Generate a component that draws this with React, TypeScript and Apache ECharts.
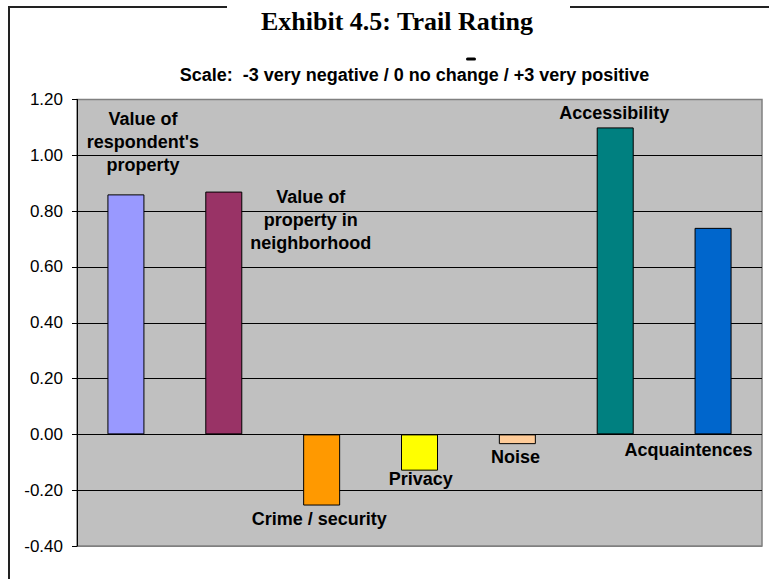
import React, { useEffect, useRef } from "react";
import * as echarts from "echarts";

const categories = [
  "Value of\nrespondent's\nproperty",
  "Value of\nproperty in\nneighborhood",
  "Crime / security",
  "Privacy",
  "Noise",
  "Accessibility",
  "Acquaintences",
];
const values = [0.86, 0.87, -0.255, -0.13, -0.035, 1.1, 0.74];
const barColors = ["#9999FF", "#993366", "#FF9900", "#FFFF00", "#FFCC99", "#008080", "#0066CC"];
const labelPlacement: { position: string; offset: [number, number] }[] = [
  { position: "top", offset: [17, -17.5] },
  { position: "top", offset: [87, 62.8] },
  { position: "bottom", offset: [-2.4, 1.8] },
  { position: "bottom", offset: [1.3, -3.5] },
  { position: "bottom", offset: [-1.8, 1.7] },
  { position: "top", offset: [-1, -2.8] },
  { position: "bottom", offset: [-24.6, 4] },
];
const yMin = -0.4;
const yMax = 1.2;
const yStep = 0.2;

const titleText = "Exhibit 4.5: Trail Rating";
const subtitleText = "Scale:  -3 very negative / 0 no change / +3 very positive";

export default function App() {
  const ref = useRef<HTMLDivElement>(null);
  useEffect(() => {
    if (!ref.current) return;
    const chart = echarts.init(ref.current, undefined, { renderer: "svg" });
    const sans = "'Liberation Sans', Arial, sans-serif";
    const tickCount = Math.round((yMax - yMin) / yStep) + 1;
    const splitColors = Array.from({ length: tickCount }, (_, i) =>
      i === 0 || i === tickCount - 1 ? "#808080" : "#000000"
    );
    chart.setOption({
      animation: false,
      backgroundColor: "#ffffff",
      grid: {
        left: 77,
        top: 99.5,
        right: 7,
        bottom: 33,
        show: true,
        backgroundColor: "#C0C0C0",
        borderColor: "#808080",
        borderWidth: 1.5,
      },
      xAxis: {
        type: "category",
        data: categories,
        show: false,
      },
      yAxis: {
        type: "value",
        min: yMin,
        max: yMax,
        interval: yStep,
        axisLine: { show: true, lineStyle: { color: "#000", width: 1 } },
        axisTick: { show: true, length: 5, lineStyle: { color: "#000" } },
        axisLabel: {
          margin: 14,
          fontSize: 17,
          fontFamily: sans,
          color: "#000",
          formatter: (v: number) => v.toFixed(2),
        },
        splitLine: { show: true, lineStyle: { color: splitColors, width: 1 } },
      },
      series: [
        {
          type: "bar",
          barWidth: 37,
          data: values.map((v, i) => ({
            value: v,
            itemStyle: { color: barColors[i], borderColor: "#000", borderWidth: 1 },
            label: {
              show: true,
              position: labelPlacement[i].position,
              distance: 0,
              offset: labelPlacement[i].offset,
              formatter: categories[i],
              fontSize: 18,
              fontWeight: "bold",
              fontFamily: sans,
              lineHeight: 23,
              color: "#000",
              align: "center",
            },
          })),
        },
      ],
      graphic: [
        { type: "line", shape: { x1: 9, y1: 7, x2: 9, y2: 600 }, style: { stroke: "#222", lineWidth: 2 } },
        { type: "line", shape: { x1: 8, y1: 7, x2: 227, y2: 7 }, style: { stroke: "#222", lineWidth: 2 } },
        { type: "line", shape: { x1: 570, y1: 7, x2: 780, y2: 7 }, style: { stroke: "#222", lineWidth: 2 } },
        {
          type: "text",
          style: {
            text: titleText,
            x: 397,
            y: 21,
            textAlign: "center",
            textVerticalAlign: "middle",
            font: "bold 26px 'Liberation Serif', 'Times New Roman', serif",
            fill: "#000",
          },
        },
        {
          type: "text",
          style: {
            text: subtitleText,
            x: 414.5,
            y: 74.8,
            textAlign: "center",
            textVerticalAlign: "middle",
            font: "bold 18px 'Liberation Sans', Arial, sans-serif",
            fill: "#000",
          },
        },
        {
          type: "rect",
          shape: { x: 466, y: 57.5, width: 10, height: 3, r: 1.5 },
          style: { fill: "#000" },
        },
      ],
    });
    return () => chart.dispose();
  }, []);
  return (
    <div
      ref={ref}
      style={{ position: "fixed", left: 0, top: 0, width: 769, height: 579 }}
    />
  );
}
